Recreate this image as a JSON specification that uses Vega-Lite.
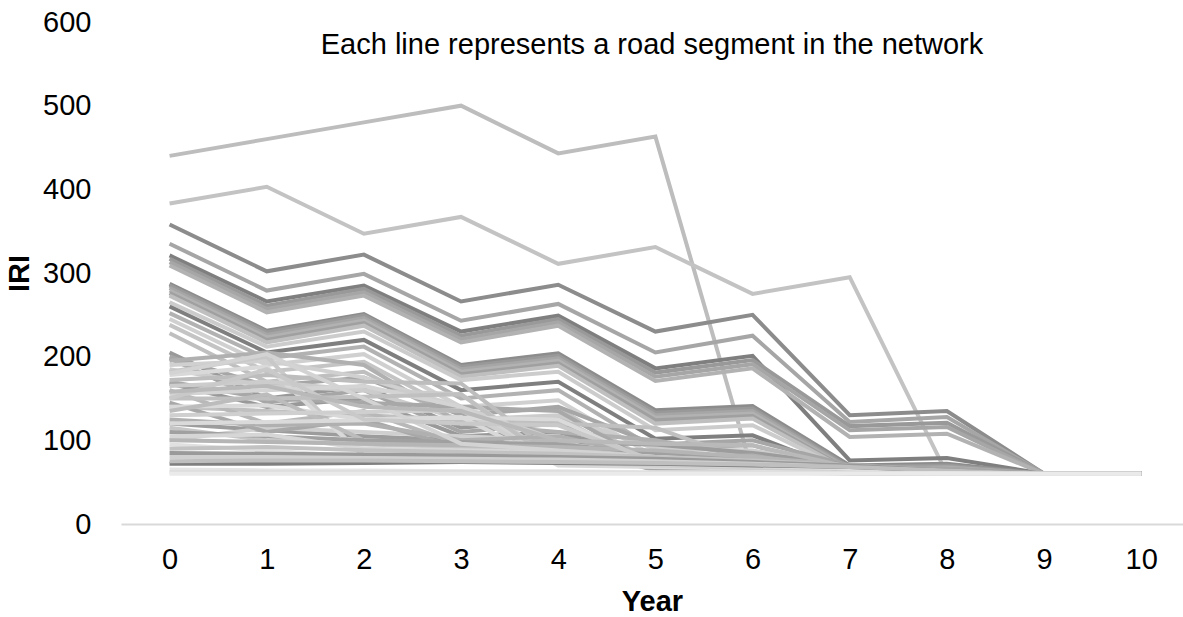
{
"$schema": "https://vega.github.io/schema/vega-lite/v6.json",
"autosize": {"type": "none"},
"padding": {"left": 121, "top": 22, "right": 0, "bottom": 93},
"width": 1062,
"height": 502,
"background": "white",
"config": {"font": "Liberation Sans", "view": {"stroke": null}},
"title": {"text": "Each line represents a road segment in the network", "fontSize": 29, "fontWeight": "normal", "color": "black", "anchor": "middle", "frame": "group", "baseline": "alphabetic", "orient": "top", "offset": -30, "dy": 45},
"data": {"values": [
{"s":1,"t":0,"v":440},{"s":1,"t":1,"v":460},{"s":1,"t":2,"v":480},{"s":1,"t":3,"v":500},{"s":1,"t":4,"v":443},{"s":1,"t":5,"v":463},{"s":1,"t":6,"v":62},{"s":1,"t":7,"v":60},{"s":1,"t":8,"v":60},{"s":1,"t":9,"v":60},{"s":1,"t":10,"v":60},
{"s":2,"t":0,"v":383},{"s":2,"t":1,"v":403},{"s":2,"t":2,"v":347},{"s":2,"t":3,"v":367},{"s":2,"t":4,"v":311},{"s":2,"t":5,"v":331},{"s":2,"t":6,"v":275},{"s":2,"t":7,"v":295},{"s":2,"t":8,"v":60},{"s":2,"t":9,"v":60},{"s":2,"t":10,"v":60},
{"s":3,"t":0,"v":358},{"s":3,"t":1,"v":302},{"s":3,"t":2,"v":322},{"s":3,"t":3,"v":266},{"s":3,"t":4,"v":286},{"s":3,"t":5,"v":230},{"s":3,"t":6,"v":250},{"s":3,"t":7,"v":130},{"s":3,"t":8,"v":135},{"s":3,"t":9,"v":60},{"s":3,"t":10,"v":60},
{"s":4,"t":0,"v":335},{"s":4,"t":1,"v":279},{"s":4,"t":2,"v":299},{"s":4,"t":3,"v":243},{"s":4,"t":4,"v":263},{"s":4,"t":5,"v":205},{"s":4,"t":6,"v":225},{"s":4,"t":7,"v":122},{"s":4,"t":8,"v":128},{"s":4,"t":9,"v":60},{"s":4,"t":10,"v":60},
{"s":5,"t":0,"v":321},{"s":5,"t":1,"v":266},{"s":5,"t":2,"v":285},{"s":5,"t":3,"v":230},{"s":5,"t":4,"v":249},{"s":5,"t":5,"v":186},{"s":5,"t":6,"v":201},{"s":5,"t":7,"v":76},{"s":5,"t":8,"v":79},{"s":5,"t":9,"v":60},{"s":5,"t":10,"v":60},
{"s":6,"t":0,"v":317},{"s":6,"t":1,"v":261},{"s":6,"t":2,"v":281},{"s":6,"t":3,"v":225},{"s":6,"t":4,"v":245},{"s":6,"t":5,"v":181},{"s":6,"t":6,"v":196},{"s":6,"t":7,"v":117},{"s":6,"t":8,"v":121},{"s":6,"t":9,"v":60},{"s":6,"t":10,"v":60},
{"s":7,"t":0,"v":313},{"s":7,"t":1,"v":257},{"s":7,"t":2,"v":277},{"s":7,"t":3,"v":221},{"s":7,"t":4,"v":241},{"s":7,"t":5,"v":176},{"s":7,"t":6,"v":191},{"s":7,"t":7,"v":112},{"s":7,"t":8,"v":116},{"s":7,"t":9,"v":60},{"s":7,"t":10,"v":60},
{"s":8,"t":0,"v":309},{"s":8,"t":1,"v":253},{"s":8,"t":2,"v":273},{"s":8,"t":3,"v":217},{"s":8,"t":4,"v":237},{"s":8,"t":5,"v":171},{"s":8,"t":6,"v":186},{"s":8,"t":7,"v":104},{"s":8,"t":8,"v":108},{"s":8,"t":9,"v":60},{"s":8,"t":10,"v":60},
{"s":9,"t":0,"v":287},{"s":9,"t":1,"v":231},{"s":9,"t":2,"v":251},{"s":9,"t":3,"v":190},{"s":9,"t":4,"v":204},{"s":9,"t":5,"v":136},{"s":9,"t":6,"v":141},{"s":9,"t":7,"v":70},{"s":9,"t":8,"v":72},{"s":9,"t":9,"v":60},{"s":9,"t":10,"v":60},
{"s":10,"t":0,"v":285},{"s":10,"t":1,"v":229},{"s":10,"t":2,"v":249},{"s":10,"t":3,"v":188},{"s":10,"t":4,"v":201},{"s":10,"t":5,"v":133},{"s":10,"t":6,"v":138},{"s":10,"t":7,"v":68},{"s":10,"t":8,"v":70},{"s":10,"t":9,"v":60},{"s":10,"t":10,"v":60},
{"s":11,"t":0,"v":282},{"s":11,"t":1,"v":226},{"s":11,"t":2,"v":246},{"s":11,"t":3,"v":185},{"s":11,"t":4,"v":198},{"s":11,"t":5,"v":130},{"s":11,"t":6,"v":135},{"s":11,"t":7,"v":66},{"s":11,"t":8,"v":68},{"s":11,"t":9,"v":60},{"s":11,"t":10,"v":60},
{"s":12,"t":0,"v":279},{"s":12,"t":1,"v":223},{"s":12,"t":2,"v":243},{"s":12,"t":3,"v":182},{"s":12,"t":4,"v":195},{"s":12,"t":5,"v":127},{"s":12,"t":6,"v":132},{"s":12,"t":7,"v":65},{"s":12,"t":8,"v":67},{"s":12,"t":9,"v":60},{"s":12,"t":10,"v":60},
{"s":13,"t":0,"v":276},{"s":13,"t":1,"v":220},{"s":13,"t":2,"v":240},{"s":13,"t":3,"v":179},{"s":13,"t":4,"v":192},{"s":13,"t":5,"v":124},{"s":13,"t":6,"v":129},{"s":13,"t":7,"v":64},{"s":13,"t":8,"v":66},{"s":13,"t":9,"v":60},{"s":13,"t":10,"v":60},
{"s":14,"t":0,"v":273},{"s":14,"t":1,"v":217},{"s":14,"t":2,"v":237},{"s":14,"t":3,"v":176},{"s":14,"t":4,"v":189},{"s":14,"t":5,"v":120},{"s":14,"t":6,"v":126},{"s":14,"t":7,"v":63},{"s":14,"t":8,"v":65},{"s":14,"t":9,"v":60},{"s":14,"t":10,"v":60},
{"s":15,"t":0,"v":265},{"s":15,"t":1,"v":212},{"s":15,"t":2,"v":230},{"s":15,"t":3,"v":172},{"s":15,"t":4,"v":182},{"s":15,"t":5,"v":112},{"s":15,"t":6,"v":118},{"s":15,"t":7,"v":62},{"s":15,"t":8,"v":62},{"s":15,"t":9,"v":60},{"s":15,"t":10,"v":60},
{"s":16,"t":0,"v":260},{"s":16,"t":1,"v":205},{"s":16,"t":2,"v":220},{"s":16,"t":3,"v":160},{"s":16,"t":4,"v":170},{"s":16,"t":5,"v":102},{"s":16,"t":6,"v":106},{"s":16,"t":7,"v":61},{"s":16,"t":8,"v":61},{"s":16,"t":9,"v":60},{"s":16,"t":10,"v":60},
{"s":17,"t":0,"v":252},{"s":17,"t":1,"v":198},{"s":17,"t":2,"v":212},{"s":17,"t":3,"v":150},{"s":17,"t":4,"v":160},{"s":17,"t":5,"v":90},{"s":17,"t":6,"v":94},{"s":17,"t":7,"v":61},{"s":17,"t":8,"v":61},{"s":17,"t":9,"v":60},{"s":17,"t":10,"v":60},
{"s":18,"t":0,"v":245},{"s":18,"t":1,"v":190},{"s":18,"t":2,"v":203},{"s":18,"t":3,"v":140},{"s":18,"t":4,"v":148},{"s":18,"t":5,"v":80},{"s":18,"t":6,"v":83},{"s":18,"t":7,"v":60},{"s":18,"t":8,"v":60},{"s":18,"t":9,"v":60},{"s":18,"t":10,"v":60},
{"s":19,"t":0,"v":238},{"s":19,"t":1,"v":182},{"s":19,"t":2,"v":194},{"s":19,"t":3,"v":132},{"s":19,"t":4,"v":138},{"s":19,"t":5,"v":72},{"s":19,"t":6,"v":74},{"s":19,"t":7,"v":60},{"s":19,"t":8,"v":60},{"s":19,"t":9,"v":60},{"s":19,"t":10,"v":60},
{"s":20,"t":0,"v":228},{"s":20,"t":1,"v":170},{"s":20,"t":2,"v":182},{"s":20,"t":3,"v":122},{"s":20,"t":4,"v":128},{"s":20,"t":5,"v":66},{"s":20,"t":6,"v":66},{"s":20,"t":7,"v":60},{"s":20,"t":8,"v":60},{"s":20,"t":9,"v":60},{"s":20,"t":10,"v":60},
{"s":21,"t":0,"v":205},{"s":21,"t":1,"v":150},{"s":21,"t":2,"v":165},{"s":21,"t":3,"v":115},{"s":21,"t":4,"v":125},{"s":21,"t":5,"v":70},{"s":21,"t":6,"v":72},{"s":21,"t":7,"v":62},{"s":21,"t":8,"v":60},{"s":21,"t":9,"v":60},{"s":21,"t":10,"v":60},
{"s":22,"t":0,"v":198},{"s":22,"t":1,"v":145},{"s":22,"t":2,"v":160},{"s":22,"t":3,"v":110},{"s":22,"t":4,"v":120},{"s":22,"t":5,"v":68},{"s":22,"t":6,"v":70},{"s":22,"t":7,"v":61},{"s":22,"t":8,"v":60},{"s":22,"t":9,"v":60},{"s":22,"t":10,"v":60},
{"s":23,"t":0,"v":200},{"s":23,"t":1,"v":165},{"s":23,"t":2,"v":175},{"s":23,"t":3,"v":130},{"s":23,"t":4,"v":140},{"s":23,"t":5,"v":95},{"s":23,"t":6,"v":100},{"s":23,"t":7,"v":70},{"s":23,"t":8,"v":66},{"s":23,"t":9,"v":60},{"s":23,"t":10,"v":60},
{"s":24,"t":0,"v":185},{"s":24,"t":1,"v":165},{"s":24,"t":2,"v":160},{"s":24,"t":3,"v":125},{"s":24,"t":4,"v":130},{"s":24,"t":5,"v":90},{"s":24,"t":6,"v":88},{"s":24,"t":7,"v":66},{"s":24,"t":8,"v":62},{"s":24,"t":9,"v":60},{"s":24,"t":10,"v":60},
{"s":25,"t":0,"v":168},{"s":25,"t":1,"v":140},{"s":25,"t":2,"v":150},{"s":25,"t":3,"v":105},{"s":25,"t":4,"v":110},{"s":25,"t":5,"v":78},{"s":25,"t":6,"v":80},{"s":25,"t":7,"v":64},{"s":25,"t":8,"v":61},{"s":25,"t":9,"v":60},{"s":25,"t":10,"v":60},
{"s":56,"t":0,"v":195},{"s":56,"t":1,"v":205},{"s":56,"t":2,"v":190},{"s":56,"t":3,"v":120},{"s":56,"t":4,"v":110},{"s":56,"t":5,"v":100},{"s":56,"t":6,"v":80},{"s":56,"t":7,"v":68},{"s":56,"t":8,"v":62},{"s":56,"t":9,"v":60},{"s":56,"t":10,"v":60},
{"s":57,"t":0,"v":170},{"s":57,"t":1,"v":150},{"s":57,"t":2,"v":145},{"s":57,"t":3,"v":140},{"s":57,"t":4,"v":135},{"s":57,"t":5,"v":70},{"s":57,"t":6,"v":66},{"s":57,"t":7,"v":63},{"s":57,"t":8,"v":61},{"s":57,"t":9,"v":60},{"s":57,"t":10,"v":60},
{"s":58,"t":0,"v":140},{"s":58,"t":1,"v":135},{"s":58,"t":2,"v":130},{"s":58,"t":3,"v":125},{"s":58,"t":4,"v":120},{"s":58,"t":5,"v":115},{"s":58,"t":6,"v":74},{"s":58,"t":7,"v":66},{"s":58,"t":8,"v":62},{"s":58,"t":9,"v":60},{"s":58,"t":10,"v":60},
{"s":59,"t":0,"v":120},{"s":59,"t":1,"v":112},{"s":59,"t":2,"v":105},{"s":59,"t":3,"v":100},{"s":59,"t":4,"v":98},{"s":59,"t":5,"v":95},{"s":59,"t":6,"v":85},{"s":59,"t":7,"v":70},{"s":59,"t":8,"v":63},{"s":59,"t":9,"v":60},{"s":59,"t":10,"v":60},
{"s":60,"t":0,"v":100},{"s":60,"t":1,"v":115},{"s":60,"t":2,"v":110},{"s":60,"t":3,"v":105},{"s":60,"t":4,"v":100},{"s":60,"t":5,"v":70},{"s":60,"t":6,"v":66},{"s":60,"t":7,"v":63},{"s":60,"t":8,"v":61},{"s":60,"t":9,"v":60},{"s":60,"t":10,"v":60},
{"s":26,"t":0,"v":190},{"s":26,"t":1,"v":195},{"s":26,"t":2,"v":175},{"s":26,"t":3,"v":140},{"s":26,"t":4,"v":100},{"s":26,"t":5,"v":66},{"s":26,"t":6,"v":64},{"s":26,"t":7,"v":62},{"s":26,"t":8,"v":60},{"s":26,"t":9,"v":60},{"s":26,"t":10,"v":60},
{"s":27,"t":0,"v":182},{"s":27,"t":1,"v":200},{"s":27,"t":2,"v":80},{"s":27,"t":3,"v":78},{"s":27,"t":4,"v":76},{"s":27,"t":5,"v":72},{"s":27,"t":6,"v":68},{"s":27,"t":7,"v":64},{"s":27,"t":8,"v":62},{"s":27,"t":9,"v":60},{"s":27,"t":10,"v":60},
{"s":28,"t":0,"v":178},{"s":28,"t":1,"v":188},{"s":28,"t":2,"v":82},{"s":28,"t":3,"v":80},{"s":28,"t":4,"v":78},{"s":28,"t":5,"v":74},{"s":28,"t":6,"v":70},{"s":28,"t":7,"v":65},{"s":28,"t":8,"v":62},{"s":28,"t":9,"v":60},{"s":28,"t":10,"v":60},
{"s":29,"t":0,"v":172},{"s":29,"t":1,"v":178},{"s":29,"t":2,"v":170},{"s":29,"t":3,"v":168},{"s":29,"t":4,"v":80},{"s":29,"t":5,"v":75},{"s":29,"t":6,"v":70},{"s":29,"t":7,"v":66},{"s":29,"t":8,"v":62},{"s":29,"t":9,"v":60},{"s":29,"t":10,"v":60},
{"s":30,"t":0,"v":165},{"s":30,"t":1,"v":170},{"s":30,"t":2,"v":160},{"s":30,"t":3,"v":155},{"s":30,"t":4,"v":75},{"s":30,"t":5,"v":72},{"s":30,"t":6,"v":68},{"s":30,"t":7,"v":64},{"s":30,"t":8,"v":62},{"s":30,"t":9,"v":60},{"s":30,"t":10,"v":60},
{"s":31,"t":0,"v":160},{"s":31,"t":1,"v":120},{"s":31,"t":2,"v":135},{"s":31,"t":3,"v":95},{"s":31,"t":4,"v":100},{"s":31,"t":5,"v":65},{"s":31,"t":6,"v":64},{"s":31,"t":7,"v":62},{"s":31,"t":8,"v":60},{"s":31,"t":9,"v":60},{"s":31,"t":10,"v":60},
{"s":32,"t":0,"v":155},{"s":32,"t":1,"v":160},{"s":32,"t":2,"v":165},{"s":32,"t":3,"v":140},{"s":32,"t":4,"v":78},{"s":32,"t":5,"v":74},{"s":32,"t":6,"v":70},{"s":32,"t":7,"v":66},{"s":32,"t":8,"v":62},{"s":32,"t":9,"v":60},{"s":32,"t":10,"v":60},
{"s":33,"t":0,"v":150},{"s":33,"t":1,"v":150},{"s":33,"t":2,"v":152},{"s":33,"t":3,"v":155},{"s":33,"t":4,"v":72},{"s":33,"t":5,"v":70},{"s":33,"t":6,"v":67},{"s":33,"t":7,"v":64},{"s":33,"t":8,"v":62},{"s":33,"t":9,"v":60},{"s":33,"t":10,"v":60},
{"s":34,"t":0,"v":145},{"s":34,"t":1,"v":110},{"s":34,"t":2,"v":125},{"s":34,"t":3,"v":90},{"s":34,"t":4,"v":95},{"s":34,"t":5,"v":64},{"s":34,"t":6,"v":63},{"s":34,"t":7,"v":61},{"s":34,"t":8,"v":60},{"s":34,"t":9,"v":60},{"s":34,"t":10,"v":60},
{"s":35,"t":0,"v":140},{"s":35,"t":1,"v":142},{"s":35,"t":2,"v":125},{"s":35,"t":3,"v":128},{"s":35,"t":4,"v":70},{"s":35,"t":5,"v":68},{"s":35,"t":6,"v":66},{"s":35,"t":7,"v":63},{"s":35,"t":8,"v":61},{"s":35,"t":9,"v":60},{"s":35,"t":10,"v":60},
{"s":36,"t":0,"v":135},{"s":36,"t":1,"v":155},{"s":36,"t":2,"v":100},{"s":36,"t":3,"v":95},{"s":36,"t":4,"v":90},{"s":36,"t":5,"v":85},{"s":36,"t":6,"v":72},{"s":36,"t":7,"v":65},{"s":36,"t":8,"v":62},{"s":36,"t":9,"v":60},{"s":36,"t":10,"v":60},
{"s":37,"t":0,"v":130},{"s":37,"t":1,"v":132},{"s":37,"t":2,"v":134},{"s":37,"t":3,"v":136},{"s":37,"t":4,"v":74},{"s":37,"t":5,"v":70},{"s":37,"t":6,"v":67},{"s":37,"t":7,"v":64},{"s":37,"t":8,"v":62},{"s":37,"t":9,"v":60},{"s":37,"t":10,"v":60},
{"s":38,"t":0,"v":125},{"s":38,"t":1,"v":118},{"s":38,"t":2,"v":120},{"s":38,"t":3,"v":100},{"s":38,"t":4,"v":105},{"s":38,"t":5,"v":80},{"s":38,"t":6,"v":82},{"s":38,"t":7,"v":63},{"s":38,"t":8,"v":61},{"s":38,"t":9,"v":60},{"s":38,"t":10,"v":60},
{"s":39,"t":0,"v":120},{"s":39,"t":1,"v":122},{"s":39,"t":2,"v":124},{"s":39,"t":3,"v":127},{"s":39,"t":4,"v":125},{"s":39,"t":5,"v":72},{"s":39,"t":6,"v":69},{"s":39,"t":7,"v":66},{"s":39,"t":8,"v":62},{"s":39,"t":9,"v":60},{"s":39,"t":10,"v":60},
{"s":40,"t":0,"v":115},{"s":40,"t":1,"v":100},{"s":40,"t":2,"v":95},{"s":40,"t":3,"v":92},{"s":40,"t":4,"v":88},{"s":40,"t":5,"v":82},{"s":40,"t":6,"v":75},{"s":40,"t":7,"v":68},{"s":40,"t":8,"v":62},{"s":40,"t":9,"v":60},{"s":40,"t":10,"v":60},
{"s":41,"t":0,"v":110},{"s":41,"t":1,"v":105},{"s":41,"t":2,"v":100},{"s":41,"t":3,"v":98},{"s":41,"t":4,"v":95},{"s":41,"t":5,"v":85},{"s":41,"t":6,"v":78},{"s":41,"t":7,"v":70},{"s":41,"t":8,"v":64},{"s":41,"t":9,"v":60},{"s":41,"t":10,"v":60},
{"s":42,"t":0,"v":105},{"s":42,"t":1,"v":107},{"s":42,"t":2,"v":90},{"s":42,"t":3,"v":88},{"s":42,"t":4,"v":86},{"s":42,"t":5,"v":80},{"s":42,"t":6,"v":75},{"s":42,"t":7,"v":68},{"s":42,"t":8,"v":62},{"s":42,"t":9,"v":60},{"s":42,"t":10,"v":60},
{"s":43,"t":0,"v":100},{"s":43,"t":1,"v":98},{"s":43,"t":2,"v":96},{"s":43,"t":3,"v":94},{"s":43,"t":4,"v":92},{"s":43,"t":5,"v":88},{"s":43,"t":6,"v":80},{"s":43,"t":7,"v":70},{"s":43,"t":8,"v":64},{"s":43,"t":9,"v":60},{"s":43,"t":10,"v":60},
{"s":44,"t":0,"v":180},{"s":44,"t":1,"v":203},{"s":44,"t":2,"v":150},{"s":44,"t":3,"v":96},{"s":44,"t":4,"v":88},{"s":44,"t":5,"v":80},{"s":44,"t":6,"v":72},{"s":44,"t":7,"v":66},{"s":44,"t":8,"v":62},{"s":44,"t":9,"v":60},{"s":44,"t":10,"v":60},
{"s":45,"t":0,"v":150},{"s":45,"t":1,"v":185},{"s":45,"t":2,"v":125},{"s":45,"t":3,"v":120},{"s":45,"t":4,"v":118},{"s":45,"t":5,"v":75},{"s":45,"t":6,"v":70},{"s":45,"t":7,"v":66},{"s":45,"t":8,"v":62},{"s":45,"t":9,"v":60},{"s":45,"t":10,"v":60},
{"s":46,"t":0,"v":158},{"s":46,"t":1,"v":165},{"s":46,"t":2,"v":140},{"s":46,"t":3,"v":135},{"s":46,"t":4,"v":100},{"s":46,"t":5,"v":96},{"s":46,"t":6,"v":94},{"s":46,"t":7,"v":68},{"s":46,"t":8,"v":62},{"s":46,"t":9,"v":60},{"s":46,"t":10,"v":60},
{"s":47,"t":0,"v":95},{"s":47,"t":1,"v":88},{"s":47,"t":2,"v":80},{"s":47,"t":3,"v":78},{"s":47,"t":4,"v":76},{"s":47,"t":5,"v":74},{"s":47,"t":6,"v":70},{"s":47,"t":7,"v":66},{"s":47,"t":8,"v":62},{"s":47,"t":9,"v":60},{"s":47,"t":10,"v":60},
{"s":48,"t":0,"v":90},{"s":48,"t":1,"v":92},{"s":48,"t":2,"v":88},{"s":48,"t":3,"v":86},{"s":48,"t":4,"v":84},{"s":48,"t":5,"v":80},{"s":48,"t":6,"v":76},{"s":48,"t":7,"v":70},{"s":48,"t":8,"v":64},{"s":48,"t":9,"v":60},{"s":48,"t":10,"v":60},
{"s":49,"t":0,"v":85},{"s":49,"t":1,"v":84},{"s":49,"t":2,"v":83},{"s":49,"t":3,"v":82},{"s":49,"t":4,"v":80},{"s":49,"t":5,"v":78},{"s":49,"t":6,"v":74},{"s":49,"t":7,"v":70},{"s":49,"t":8,"v":64},{"s":49,"t":9,"v":60},{"s":49,"t":10,"v":60},
{"s":50,"t":0,"v":80},{"s":50,"t":1,"v":80},{"s":50,"t":2,"v":79},{"s":50,"t":3,"v":78},{"s":50,"t":4,"v":77},{"s":50,"t":5,"v":75},{"s":50,"t":6,"v":72},{"s":50,"t":7,"v":68},{"s":50,"t":8,"v":63},{"s":50,"t":9,"v":60},{"s":50,"t":10,"v":60},
{"s":51,"t":0,"v":72},{"s":51,"t":1,"v":72},{"s":51,"t":2,"v":73},{"s":51,"t":3,"v":74},{"s":51,"t":4,"v":73},{"s":51,"t":5,"v":72},{"s":51,"t":6,"v":70},{"s":51,"t":7,"v":68},{"s":51,"t":8,"v":64},{"s":51,"t":9,"v":60},{"s":51,"t":10,"v":60},
{"s":52,"t":0,"v":75},{"s":52,"t":1,"v":76},{"s":52,"t":2,"v":76},{"s":52,"t":3,"v":75},{"s":52,"t":4,"v":74},{"s":52,"t":5,"v":73},{"s":52,"t":6,"v":71},{"s":52,"t":7,"v":68},{"s":52,"t":8,"v":64},{"s":52,"t":9,"v":60},{"s":52,"t":10,"v":60},
{"s":53,"t":0,"v":65},{"s":53,"t":1,"v":64},{"s":53,"t":2,"v":64},{"s":53,"t":3,"v":63},{"s":53,"t":4,"v":63},{"s":53,"t":5,"v":62},{"s":53,"t":6,"v":62},{"s":53,"t":7,"v":61},{"s":53,"t":8,"v":61},{"s":53,"t":9,"v":60},{"s":53,"t":10,"v":60},
{"s":54,"t":0,"v":62},{"s":54,"t":1,"v":62},{"s":54,"t":2,"v":62},{"s":54,"t":3,"v":62},{"s":54,"t":4,"v":62},{"s":54,"t":5,"v":61},{"s":54,"t":6,"v":61},{"s":54,"t":7,"v":61},{"s":54,"t":8,"v":60},{"s":54,"t":9,"v":60},{"s":54,"t":10,"v":60},
{"s":55,"t":0,"v":60},{"s":55,"t":1,"v":60},{"s":55,"t":2,"v":60},{"s":55,"t":3,"v":60},{"s":55,"t":4,"v":60},{"s":55,"t":5,"v":60},{"s":55,"t":6,"v":60},{"s":55,"t":7,"v":60},{"s":55,"t":8,"v":60},{"s":55,"t":9,"v":60},{"s":55,"t":10,"v":60}
]},
"mark": {"type": "line", "strokeWidth": 4, "interpolate": "linear", "clip": true},
"encoding": {
"x": {"field": "t", "type": "quantitative", "scale": {"domain": [-0.5, 10.43], "nice": false, "zero": false},
"axis": {"values": [0,1,2,3,4,5,6,7,8,9,10], "format": "d", "title": "Year", "titleFontSize": 29, "titleFontWeight": "bold", "titleColor": "black", "titlePadding": 13, "labelFontSize": 29, "labelColor": "black", "labelPadding": 21, "labelFlush": false, "labelOverlap": false, "ticks": false, "grid": false, "domainColor": "#d9d9d9", "domainWidth": 2}},
"y": {"field": "v", "type": "quantitative", "scale": {"domain": [0, 600], "nice": false},
"axis": {"values": [0,100,200,300,400,500,600], "title": "IRI", "titleFontSize": 29, "titleFontWeight": "bold", "titleColor": "black", "titlePadding": 8, "labelFontSize": 29, "labelColor": "black", "labelPadding": 30, "ticks": false, "grid": false, "domain": false}},
"color": {"field": "s", "type": "nominal", "legend": null, "scale": {
"domain": [1,2,3,4,5,6,7,8,9,10,11,12,13,14,15,16,17,18,19,20,21,22,23,24,25,26,27,28,29,30,31,32,33,34,35,36,37,38,39,40,41,42,43,44,45,46,47,48,49,50,51,52,53,54,55,56,57,58,59,60],
"range": ["#bdbdbd","#c3c3c3","#8c8c8c","#a6a6a6","#7f7f7f","#999999","#a6a6a6","#b2b2b2","#8c8c8c","#999999","#a6a6a6","#b2b2b2","#a0a0a0","#bfbfbf","#cccccc","#7f7f7f","#b2b2b2","#d0d0d0","#c4c4c4","#bfbfbf","#999999","#a6a6a6","#a6a6a6","#cccccc","#999999","#d0d0d0","#c8c8c8","#d9d9d9","#bdbdbd","#cccccc","#b8b8b8","#d4d4d4","#c0c0c0","#a8a8a8","#d9d9d9","#bcbcbc","#cfcfcf","#b0b0b0","#dadada","#c6c6c6","#a0a0a0","#d6d6d6","#b5b5b5","#d3d3d3","#c9c9c9","#b9b9b9","#e0e0e0","#c2c2c2","#9a9a9a","#d0d0d0","#7f7f7f","#bfbfbf","#e5e5e5","#dcdcdc","#eaeaea","#b0b0b0","#a8a8a8","#c0c0c0","#9c9c9c","#cfcfcf"]}}
}
}
